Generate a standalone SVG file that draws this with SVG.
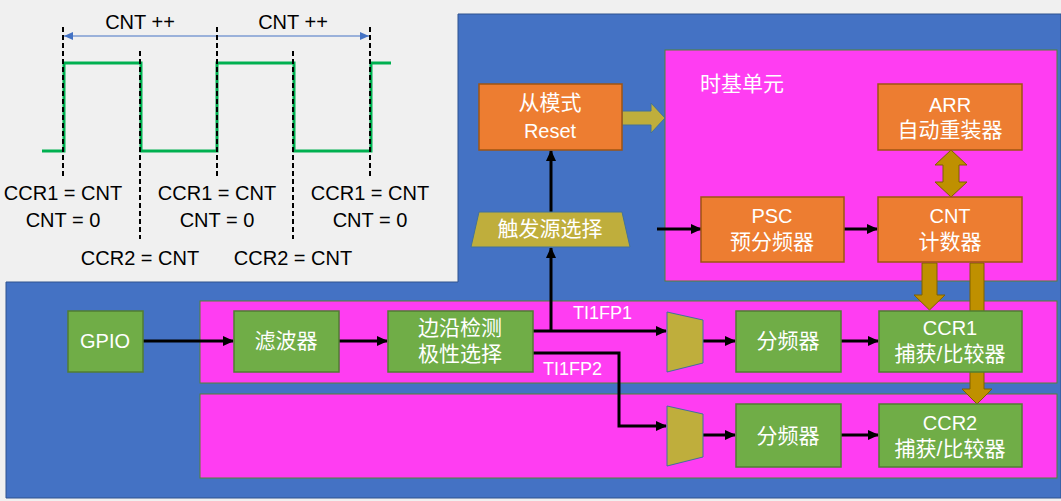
<svg xmlns="http://www.w3.org/2000/svg" width="1061" height="501" viewBox="0 0 1061 501">
<defs>
<marker id="ah" markerUnits="userSpaceOnUse" markerWidth="11" markerHeight="10" refX="10" refY="5" orient="auto"><path d="M0,0 L11,5 L0,10 z" fill="#000"/></marker>
<marker id="bh" markerUnits="userSpaceOnUse" markerWidth="9" markerHeight="8" refX="9" refY="4" orient="auto-start-reverse"><path d="M0,0 L9,4 L0,8 z" fill="#4472C4"/></marker>
</defs>
<style>
.blue{fill:#4472C4;stroke:#2F528F;stroke-width:1}
.pink{fill:#FF3DF2;stroke:#548235;stroke-width:1}
.org{fill:#ED7D31;stroke:#9E5412;stroke-width:1.5}
.grn{fill:#70AD47;stroke:#507E32;stroke-width:1.5}
.olive{fill:#BFAE3C;stroke:#41719C;stroke-width:1}
.bar{fill:#BF9000;stroke:#7F6000;stroke-width:1}
.wt{fill:#fff;font-family:'Liberation Sans','Noto Sans CJK SC',sans-serif;font-size:20px;text-anchor:middle}
.cj{font-size:21px}
.bk{fill:#000;font-family:'Liberation Sans','Noto Sans CJK SC',sans-serif;font-size:20px;text-anchor:middle}
.wire{stroke:#000;stroke-width:3;fill:none;marker-end:url(#ah)}
.dash{stroke:#000;stroke-width:2;stroke-dasharray:5,3;fill:none}
</style>
<rect x="0" y="0" width="1061" height="501" fill="#F0F0F0"/>

<g id="waveform">
<path d="M42,151 H64 V63 H141 V151 H217 V63 H294 V151 H371 V63 H391" fill="none" stroke="#00B050" stroke-width="3"/>
<path class="dash" d="M63,27 V176 M217,27 V176 M370,27 V176 M140,51 V239 M293,51 V239"/>
<path d="M64,36 H216 M218,36 H369" stroke="#4472C4" stroke-width="1.2" fill="none" marker-start="url(#bh)" marker-end="url(#bh)"/>
<text class="bk" x="140" y="29">CNT ++</text>
<text class="bk" x="293" y="29">CNT ++</text>
<text class="bk" x="63" y="200">CCR1 = CNT</text>
<text class="bk" x="63" y="227">CNT = 0</text>
<text class="bk" x="217" y="200">CCR1 = CNT</text>
<text class="bk" x="217" y="227">CNT = 0</text>
<text class="bk" x="370" y="200">CCR1 = CNT</text>
<text class="bk" x="370" y="227">CNT = 0</text>
<text class="bk" x="140" y="265">CCR2 = CNT</text>
<text class="bk" x="293" y="265">CCR2 = CNT</text>
</g>

<g id="background">
<path class="blue" d="M458,14 H1061 V498 H6 V282 H458 Z"/>
<rect id="timebase" class="pink" x="665" y="50" width="392" height="231"/>
<rect id="channel1" class="pink" x="200" y="301" width="857" height="82"/>
<rect id="channel2" class="pink" x="200" y="394" width="857" height="84"/>
<text class="wt cj" x="700" y="91" style="text-anchor:start">时基单元</text>
</g>

<g id="bars">
<polygon class="bar" points="951,150 967,165 959,165 959,182 967,182 951,197 935,182 943,182 943,165 935,165"/>
<polygon class="bar" points="922,263 937,263 937,295 945,295 929.5,310 914,295 922,295"/>
<polygon class="bar" points="970,263 984,263 984,389 992,389 977,404 962,389 970,389"/>
<polygon class="olive" points="622,111 651,111 651,103 665,118 651,133 651,125 622,125"/>
</g>

<g id="connectors">
<path class="wire" d="M143,341 H233"/>
<path class="wire" d="M339,341 H387"/>
<path class="wire" d="M533,331 H666"/>
<path class="wire" d="M551,331 V248"/>
<path class="wire" d="M551,212 V151"/>
<path class="wire" d="M533,353 H619 V426 H666"/>
<path class="wire" d="M703,341 H735"/>
<path class="wire" d="M841,341 H878"/>
<path class="wire" d="M703,435 H735"/>
<path class="wire" d="M841,435 H878"/>
<path class="wire" d="M657,229 H701"/>
<path class="wire" d="M844,229 H877"/>
<text class="wt" x="573" y="319" style="text-anchor:start;font-size:18px">TI1FP1</text>
<text class="wt" x="543" y="375" style="text-anchor:start;font-size:18px">TI1FP2</text>
</g>

<g id="slave">
<rect class="org" x="479" y="84" width="143" height="66"/>
<text class="wt cj" x="550" y="110">从模式</text>
<text class="wt" x="550" y="138">Reset</text>
</g>
<g id="trigger">
<polygon class="olive" points="479,212 622,212 630,247 471,247"/>
<text class="wt cj" x="550" y="236">触发源选择</text>
</g>
<g id="arr">
<rect class="org" x="878" y="84" width="144" height="66"/>
<text class="wt" x="950" y="112">ARR</text>
<text class="wt cj" x="950" y="137">自动重装器</text>
</g>
<g id="psc">
<rect class="org" x="701" y="197" width="143" height="65"/>
<text class="wt" x="772" y="223">PSC</text>
<text class="wt cj" x="772" y="249">预分频器</text>
</g>
<g id="cnt">
<rect class="org" x="878" y="197" width="144" height="65"/>
<text class="wt" x="950" y="223">CNT</text>
<text class="wt cj" x="950" y="249">计数器</text>
</g>
<g id="gpio">
<rect class="grn" x="68" y="311" width="75" height="61"/>
<text class="wt" x="105" y="348">GPIO</text>
</g>
<g id="filter">
<rect class="grn" x="234" y="311" width="105" height="61"/>
<text class="wt cj" x="286" y="348">滤波器</text>
</g>
<g id="edge">
<rect class="grn" x="388" y="311" width="145" height="61"/>
<text class="wt cj" x="460" y="335">边沿检测</text>
<text class="wt cj" x="460" y="361">极性选择</text>
</g>
<g id="mux1"><polygon class="olive" points="667,312 703,320 703,363 667,372"/></g>
<g id="mux2"><polygon class="olive" points="667,406 703,414 703,457 667,466"/></g>
<g id="div1">
<rect class="grn" x="736" y="311" width="105" height="61"/>
<text class="wt cj" x="788" y="348">分频器</text>
</g>
<g id="div2">
<rect class="grn" x="736" y="404" width="105" height="63"/>
<text class="wt cj" x="788" y="443">分频器</text>
</g>
<g id="ccr1">
<rect class="grn" x="879" y="311" width="143" height="61"/>
<text class="wt" x="950" y="335">CCR1</text>
<text class="wt cj" x="950" y="361">捕获/比较器</text>
</g>
<g id="ccr2">
<rect class="grn" x="879" y="404" width="143" height="63"/>
<text class="wt" x="950" y="430">CCR2</text>
<text class="wt cj" x="950" y="456">捕获/比较器</text>
</g>
</svg>
